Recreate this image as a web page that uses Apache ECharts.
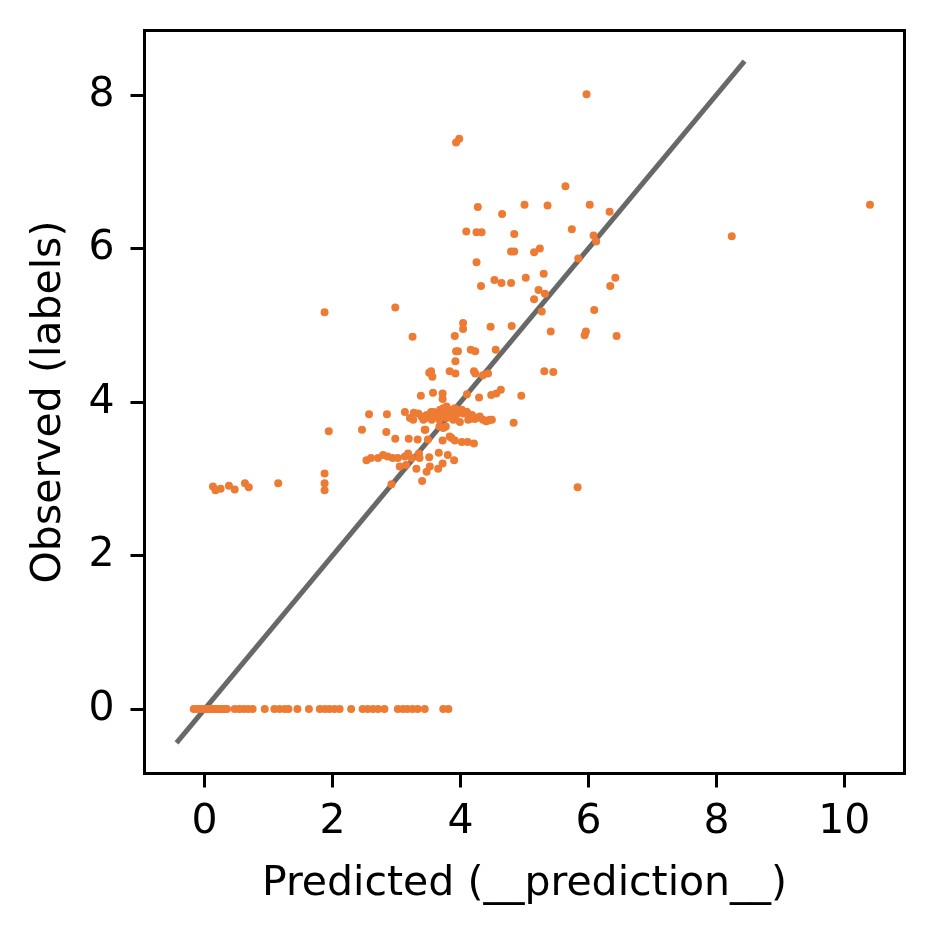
<!DOCTYPE html>
<html>
<head>
<meta charset="utf-8">
<script src="https://cdn.jsdelivr.net/npm/echarts@6/dist/echarts.min.js"></script>
<style>
html,body{margin:0;padding:0;background:#fff;}
#chart{width:934px;height:934px;}
</style>
</head>
<body>
<div id="chart"></div>
<script>
// Predicted (x) and Observed (y) values
const predicted = [
  // observed = 0 row
  -0.17,-0.12,-0.08,-0.04,0.0,0.03,0.06,0.09,0.12,0.16,0.19,0.22,0.26,0.29,0.32,0.35,0.47,0.54,0.61,0.68,0.75,0.94,1.09,1.17,1.25,1.31,1.45,1.63,1.80,1.88,1.95,2.03,2.11,2.29,2.47,2.55,2.63,2.71,2.81,3.02,3.10,3.17,3.25,3.33,3.44,3.73,3.81,
  // ~2.9 row
  0.13,0.17,0.25,0.38,0.47,0.63,0.69,1.15,1.875,1.875,1.875,5.83,2.92,3.40,
  // misc
  1.875,1.94,2.98,3.25,3.91,3.93,3.98,5.97,8.24,10.40,
  // upper
  5.64,4.27,5.00,5.36,6.02,6.33,4.65,4.09,4.25,4.33,4.84,5.74,6.08,6.12,4.79,4.84,5.15,5.24,5.84,4.25,4.53,4.64,4.79,5.02,5.30,4.32,6.42,6.34,5.22,5.32,5.15,5.27,6.09,4.04,4.04,4.47,4.80,5.41,5.96,5.94,6.44,
  // mid
  3.93,3.96,4.16,4.23,4.55,3.92,3.51,3.54,3.56,3.83,3.92,4.21,4.23,4.35,4.43,5.31,5.45,4.95,4.10,4.29,4.48,4.56,4.63,3.57,3.72,3.72,3.38,4.83,
  // cluster 3.6-3.95
  2.57,2.85,3.13,3.27,3.21,3.26,3.34,3.39,3.45,3.47,3.55,3.58,3.65,3.68,3.73,3.76,3.78,3.84,3.89,3.91,3.99,4.02,4.10,4.12,4.18,4.25,4.30,4.46,4.35,4.43,4.49,3.42,3.54,3.62,3.67,3.72,3.78,3.83,3.88,3.93,3.98,4.04,4.09,4.14,4.22,4.40,3.67,3.77,3.44,3.73,3.45,2.46,2.84,
  // 3.5 row
  2.98,3.19,3.33,3.49,3.72,3.83,3.86,3.91,4.02,4.11,4.21,
  // 3.3 row
  2.53,2.60,2.71,2.79,2.86,2.94,3.02,3.13,3.18,3.24,3.35,3.36,3.51,3.66,3.80,3.90,
  // 3.1-3.2 row
  3.05,3.15,3.31,3.47,3.52,3.65,3.72
];
const observed = [
  0,0,0,0,0,0,0,0,0,0,0,0,0,0,0,0,0,0,0,0,0,0,0,0,0,0,0,0,0,0,0,0,0,0,0,0,0,0,0,0,0,0,0,0,0,0,0,
  2.90,2.85,2.87,2.91,2.86,2.94,2.89,2.94,3.07,2.94,2.85,2.89,2.93,2.97,
  5.17,3.62,5.23,4.85,4.86,7.38,7.43,8.01,6.16,6.57,
  6.81,6.54,6.57,6.56,6.57,6.48,6.45,6.22,6.21,6.21,6.19,6.25,6.17,6.09,5.96,5.96,5.95,6.00,5.87,5.82,5.59,5.55,5.55,5.62,5.67,5.51,5.62,5.51,5.46,5.41,5.34,5.18,5.20,5.03,4.95,4.98,4.99,4.92,4.92,4.87,4.86,
  4.66,4.66,4.68,4.66,4.68,4.53,4.38,4.40,4.33,4.40,4.37,4.40,4.37,4.35,4.37,4.40,4.39,4.08,4.10,4.06,4.09,4.11,4.16,4.12,4.11,4.04,4.08,3.73,
  3.84,3.84,3.87,3.86,3.79,3.77,3.85,3.81,3.79,3.83,3.77,3.87,3.81,3.90,3.92,3.90,3.79,3.90,3.77,3.92,3.74,3.90,3.87,3.77,3.83,3.79,3.81,3.77,3.77,3.76,3.77,3.77,3.87,3.81,3.77,3.85,3.94,3.87,3.78,3.83,3.90,3.85,3.87,3.78,3.78,3.75,3.68,3.68,3.64,3.66,3.64,3.64,3.61,
  3.52,3.52,3.51,3.51,3.50,3.55,3.53,3.50,3.48,3.48,3.46,
  3.24,3.27,3.27,3.31,3.29,3.27,3.27,3.29,3.33,3.27,3.33,3.27,3.28,3.34,3.31,3.24,
  3.16,3.18,3.13,3.09,3.16,3.13,3.20
];
// identity reference line end points
const lineX = [-0.44, 8.44];
const lineY = [-0.44, 8.44];
const xTicks = [0, 2, 4, 6, 8, 10];
const yTicks = [0, 2, 4, 6, 8];

const points = predicted.map((x, i) => [x, observed[i]]);
const linePts = lineX.map((x, i) => [x, lineY[i]]);

const FONT = 'DejaVu Sans';
const chart = echarts.init(document.getElementById('chart'), null, {renderer: 'canvas'});
chart.setOption({
  animation: false,
  backgroundColor: '#fff',
  grid: {left: 144.5, right: 29.5, top: 30.5, bottom: 160.5, show: true,
         borderColor: '#000', borderWidth: 3, backgroundColor: 'transparent'},
  xAxis: {
    type: 'value', min: -0.94, max: 10.94,
    splitLine: {show: false},
    axisLine: {show: true, onZero: false, lineStyle: {color: '#000', width: 3}},
    axisTick: {show: true, length: 14, lineStyle: {color: '#000', width: 3}, customValues: xTicks},
    axisLabel: {customValues: xTicks, fontSize: 41, color: '#000', fontFamily: FONT, margin: 28},
    name: 'Predicted (__prediction__)', nameLocation: 'middle', nameGap: 90,
    nameTextStyle: {fontSize: 41, color: '#000', fontFamily: FONT}
  },
  yAxis: {
    type: 'value', min: -0.84, max: 8.84,
    splitLine: {show: false},
    axisLine: {show: true, onZero: false, lineStyle: {color: '#000', width: 3}},
    axisTick: {show: true, length: 14, lineStyle: {color: '#000', width: 3}, customValues: yTicks},
    axisLabel: {customValues: yTicks, fontSize: 41, color: '#000', fontFamily: FONT, margin: 30},
    name: 'Observed (labels)', nameLocation: 'middle', nameGap: 75,
    nameTextStyle: {fontSize: 41, color: '#000', fontFamily: FONT}
  },
  series: [
    {type: 'line', data: linePts, showSymbol: false, symbol: 'none', z: 1,
     lineStyle: {color: '#686868', width: 5}},
    {type: 'scatter', data: points, symbolSize: 8, z: 2,
     itemStyle: {color: '#EE7B33', opacity: 1}}
  ]
});
</script>
</body>
</html>
